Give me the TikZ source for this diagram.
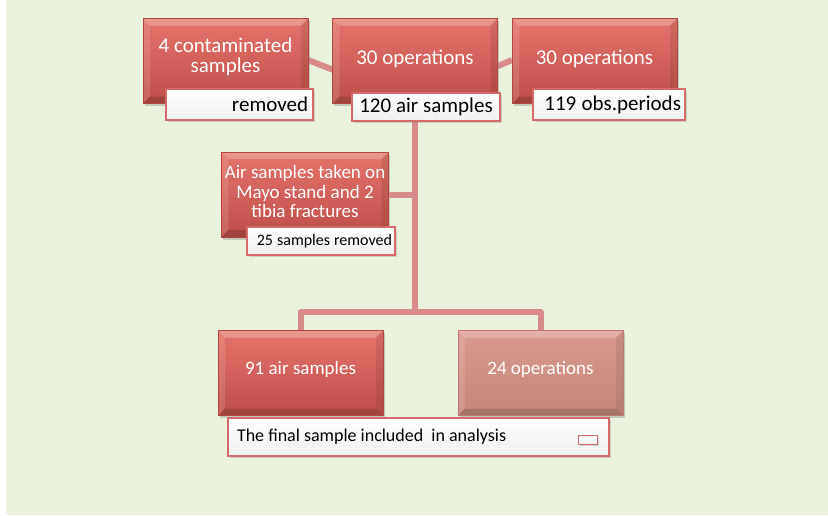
\documentclass[tikz,border=0pt]{standalone}
\usepackage{fontspec}
\setmainfont{Carlito}
\usetikzlibrary{shadows}
\definecolor{bggreen}{RGB}{234,241,221}
\definecolor{boxtop}{RGB}{228,116,106}
\definecolor{boxbot}{RGB}{190,78,74}
\definecolor{boxedge}{RGB}{178,70,66}
\definecolor{paletop}{RGB}{219,153,143}
\definecolor{palebot}{RGB}{198,134,124}
\definecolor{paleedge}{RGB}{190,120,112}
\definecolor{linkred}{RGB}{217,139,139}
\definecolor{labedge}{RGB}{212,106,106}
\tikzset{
	boxbevel/.style={path picture={
		\fill[white,opacity=.25] (path picture bounding box.north west) -- (path picture bounding box.north east) -- ([xshift=-7pt,yshift=-7pt]path picture bounding box.north east) -- ([xshift=7pt,yshift=-7pt]path picture bounding box.north west) -- cycle;
		\fill[white,opacity=.12] (path picture bounding box.north west) -- ([xshift=7pt,yshift=-7pt]path picture bounding box.north west) -- ([xshift=7pt,yshift=7pt]path picture bounding box.south west) -- (path picture bounding box.south west) -- cycle;
		\fill[black,opacity=.16] (path picture bounding box.south west) -- (path picture bounding box.south east) -- ([xshift=-7pt,yshift=7pt]path picture bounding box.south east) -- ([xshift=7pt,yshift=7pt]path picture bounding box.south west) -- cycle;
		\fill[black,opacity=.08] (path picture bounding box.north east) -- ([xshift=-7pt,yshift=-7pt]path picture bounding box.north east) -- ([xshift=-7pt,yshift=7pt]path picture bounding box.south east) -- (path picture bounding box.south east) -- cycle;
	}},
	redbox/.style={rectangle, minimum width=165pt, minimum height=85pt, top color=boxtop, bottom color=boxbot, draw=boxedge, line width=.6pt, text=white, align=center, font=\fontsize{21}{20}\selectfont, drop shadow={shadow xshift=1.5pt,shadow yshift=-2.5pt,opacity=.35}, boxbevel},
	palebox/.style={redbox, top color=paletop, bottom color=palebot, draw=paleedge},
	labelbox/.style={rectangle, top color=white, bottom color=black!6, draw=labedge, line width=1.2pt, text=black, inner xsep=5pt, inner ysep=0pt, font=\fontsize{21}{24}\selectfont, execute at begin node={\spaceskip=0pt\xspaceskip=0pt\relax}, drop shadow={shadow xshift=1.5pt,shadow yshift=-2pt,opacity=.3}},
	link/.style={draw=linkred, line width=6pt, line join=round}
}
\begin{document}
\begin{tikzpicture}[x=1pt,y=-1pt]
	\useasboundingbox (0,0) rectangle (828,515);
	\fill[bggreen] (6,0) rectangle (828,515);
	\coordinate (jtop) at (415,102);
	\coordinate (jsplit) at (415,312);
	\coordinate (cAend) at (308,60);
	\coordinate (cCend) at (512,60);
	\draw[link] (cAend) -- (jtop) -- (cCend);
	\draw[link] (jtop) -- (jsplit);
	\node[redbox] (cA) at (225.5,61) {4 contaminated\\samples\rule[-12pt]{0pt}{0pt}};
	\node[redbox] (cB) at (415,61) {\raisebox{8pt}{30 operations}};
	\node[redbox] (cC) at (594.5,61) {\raisebox{8pt}{30 operations}};
	\node[redbox, font=\fontsize{19}{19.5}\selectfont] (cD) at (305,194.5) {\raisebox{3pt}{\begin{tabular}{@{}c@{}}Air samples taken on\\Mayo stand and 2\\tibia fractures\end{tabular}}};
	\node[redbox, font=\fontsize{19}{20}\selectfont] (cE) at (300.5,373) {\raisebox{11pt}{91 air samples}};
	\node[palebox, font=\fontsize{19}{20}\selectfont] (cF) at (540.5,373) {\raisebox{11pt}{24 operations}};
	\draw[link] (cD.east) -- (cD.east -| jtop);
	\draw[link] (cE.north) |- (jsplit) -| (cF.north);
	\node[labelbox, text width=137pt, minimum height=31pt, align=right] (lremoved) at (239.5,104.5) {removed};
	\node[labelbox, text width=138pt, minimum height=28pt, align=center] (lair) at (426,107) {120 air samples};
	\node[labelbox, text width=144pt, minimum height=31pt, align=right, inner xsep=4pt] (lobs) at (609,104.5) {119 obs.periods};
	\node[labelbox, text width=142pt, minimum height=28pt, align=right, inner xsep=3pt, font=\fontsize{16}{19}\selectfont] (lrem) at (321,241) {25 samples removed};
	\node[labelbox, text width=363pt, minimum height=38pt, align=left, inner xsep=9pt, font=\fontsize{18}{21}\selectfont] (lfinal) at (418.5,437) {The final sample included\ \ in analysis};
	\node[labelbox, minimum width=19pt, minimum height=9pt, inner sep=0pt, line width=1pt, drop shadow={shadow xshift=.8pt,shadow yshift=-1pt,opacity=.3}] (lkey) at (587.5,439.5) {};
\end{tikzpicture}
\end{document}
